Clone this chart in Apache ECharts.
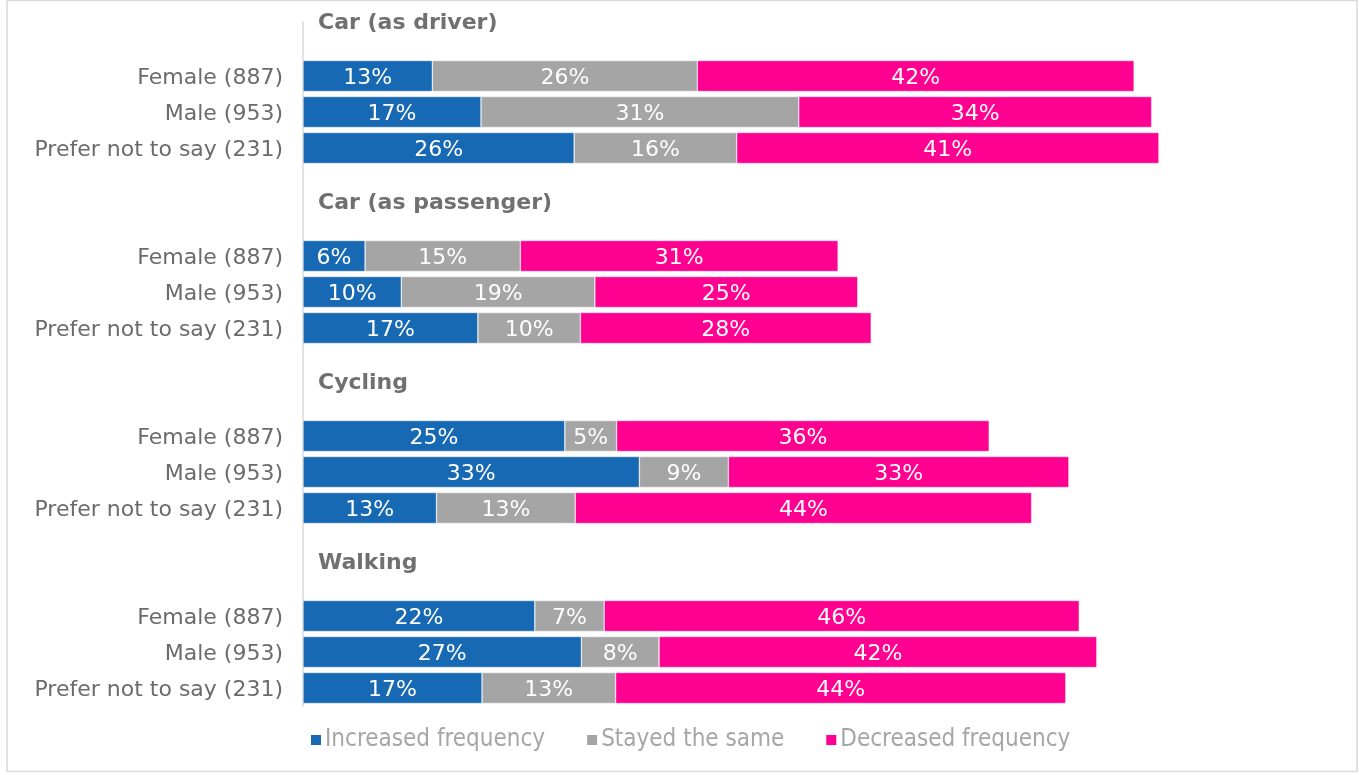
<!DOCTYPE html>
<html>
<head>
<meta charset="utf-8">
<script src="https://cdn.jsdelivr.net/npm/echarts@6/dist/echarts.min.js"></script>
<style>
  html, body { margin: 0; padding: 0; background: #fff; }
  #main { width: 1359px; height: 775px; }
</style>
</head>
<body>
<div id="main"></div>
<script>
// travel mode change by gender
var groups = ['Car (as driver)', 'Car (as passenger)', 'Cycling', 'Walking'];
var respondents = ['Female (887)', 'Male (953)', 'Prefer not to say (231)'];
var seriesNames = ['Increased frequency', 'Stayed the same', 'Decreased frequency'];

// values per group: [female, male, prefer not to say]
var increased = [[12.5, 17.2, 26.2], [6.0, 9.5, 16.9], [25.3, 32.5, 12.9], [22.4, 26.9, 17.3]];
var same      = [[25.6, 30.7, 15.7], [15.0, 18.7, 9.9], [5.0, 8.6, 13.4], [6.7, 7.5, 12.9]];
var decreased = [[42.2, 34.1, 40.8], [30.7, 25.4, 28.1], [36.0, 32.9, 44.1], [45.9, 42.3, 43.5]];

var colors = ['#1769b4', '#a5a5a5', '#ff0090'];

// rows: header row, then the three respondents, with one spacer row before each later group
var categories = [];
var rowMap = [];
groups.forEach(function (g, gi) {
    if (gi > 0) { categories.push(''); rowMap.push(null); }
    categories.push('');
    rowMap.push({ header: g });
    respondents.forEach(function (r, ri) {
        categories.push(r);
        rowMap.push({ g: gi, r: ri });
    });
});

function column(arr) {
    return rowMap.map(function (m) {
        return (m && m.header === undefined) ? arr[m.g][m.r] : null;
    });
}
var headerData = rowMap.map(function (m) {
    return (m && m.header !== undefined) ? { value: 0, name: m.header } : null;
});

var chart = echarts.init(document.getElementById('main'));

var labelFont = 'DejaVu Sans, Verdana, sans-serif';

var series = [increased, same, decreased].map(function (arr, i) {
    return {
        name: seriesNames[i],
        type: 'bar',
        stack: 'total',
        barWidth: 31,
        barGap: '-100%',
        data: column(arr),
        itemStyle: { color: colors[i], borderColor: '#fff', borderWidth: 0.5 },
        label: {
            show: true,
            position: 'inside',
            offset: [0, 2],
            color: '#fff',
            fontFamily: labelFont,
            fontSize: 22,
            formatter: function (p) { return Math.round(p.value) + '%'; }
        },
        emphasis: { disabled: true }
    };
});

series.push({
    name: 'headers',
    type: 'bar',
    barWidth: 31,
    barGap: '-100%',
    data: headerData,
    itemStyle: { color: 'transparent' },
    label: {
        show: true,
        position: 'right',
        distance: 0,
        offset: [15, -17],
        color: '#707070',
        fontWeight: 'bold',
        fontFamily: labelFont,
        fontSize: 22,
        formatter: function (p) { return p.name; }
    },
    emphasis: { disabled: true },
    silent: true
});

var option = {
    backgroundColor: '#fff',
    animation: false,
    graphic: [{
        type: 'rect',
        shape: { x: 7, y: 0.5, width: 1350, height: 771 },
        style: { fill: 'none', stroke: '#d9d9d9', lineWidth: 1.5 },
        silent: true
    }],
    legend: {
        data: seriesNames,
        top: 723,
        left: 304,
        icon: 'rect',
        itemWidth: 12,
        itemHeight: 12,
        itemGap: 40,
        textStyle: {
            color: '#a6a6a6',
            fontFamily: 'DejaVu Sans Condensed, DejaVu Sans, sans-serif',
            fontSize: 24,
            padding: [0, 0, 0, -2]
        }
    },
    grid: {
        left: 303,
        right: 21,
        top: 22,
        bottom: 69
    },
    xAxis: {
        type: 'value',
        min: 0,
        max: 100,
        show: false
    },
    yAxis: {
        type: 'category',
        inverse: true,
        data: categories,
        axisLine: { lineStyle: { color: '#d9d9d9', width: 1.5 } },
        axisTick: { show: false },
        axisLabel: {
            margin: 20,
            color: '#6b6b6b',
            fontFamily: labelFont,
            fontSize: 22,
            formatter: function (v) { return v ? '{c|' + v + '}' : ''; },
            rich: {
                c: {
                    color: '#6b6b6b',
                    fontFamily: labelFont,
                    fontSize: 22,
                    padding: [5, 0, 0, 0]
                }
            }
        }
    },
    series: series
};
chart.setOption(option);
</script>
</body>
</html>
